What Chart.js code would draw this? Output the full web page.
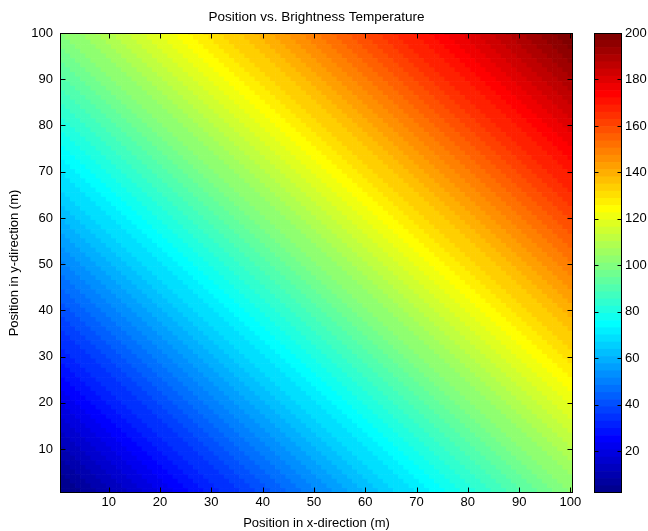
<!DOCTYPE html>
<html>
<head>
<meta charset="utf-8">
<script src="https://cdn.jsdelivr.net/npm/chart.js@4.4.1/dist/chart.umd.min.js"></script>
<style>
  html, body { margin: 0; padding: 0; background: #fff; }
  #wrap { position: relative; width: 648px; height: 531px; }
  canvas { position: absolute; top: 0; }
  #heat { left: 0; }
  #cbar { left: 560px; }
</style>
</head>
<body>
<div id="wrap">
  <canvas id="heat" width="648" height="531"></canvas>
  <canvas id="cbar" width="88" height="531"></canvas>
</div>
<script>
// grid positions (m)
const xPositions = [
  1, 2, 3, 4, 5, 6, 7, 8, 9, 10, 11, 12, 13, 14, 15, 16, 17, 18, 19, 20,
  21, 22, 23, 24, 25, 26, 27, 28, 29, 30, 31, 32, 33, 34, 35, 36, 37, 38, 39, 40,
  41, 42, 43, 44, 45, 46, 47, 48, 49, 50, 51, 52, 53, 54, 55, 56, 57, 58, 59, 60,
  61, 62, 63, 64, 65, 66, 67, 68, 69, 70, 71, 72, 73, 74, 75, 76, 77, 78, 79, 80,
  81, 82, 83, 84, 85, 86, 87, 88, 89, 90, 91, 92, 93, 94, 95, 96, 97, 98, 99, 100
];
const yPositions = [
  1, 2, 3, 4, 5, 6, 7, 8, 9, 10, 11, 12, 13, 14, 15, 16, 17, 18, 19, 20,
  21, 22, 23, 24, 25, 26, 27, 28, 29, 30, 31, 32, 33, 34, 35, 36, 37, 38, 39, 40,
  41, 42, 43, 44, 45, 46, 47, 48, 49, 50, 51, 52, 53, 54, 55, 56, 57, 58, 59, 60,
  61, 62, 63, 64, 65, 66, 67, 68, 69, 70, 71, 72, 73, 74, 75, 76, 77, 78, 79, 80,
  81, 82, 83, 84, 85, 86, 87, 88, 89, 90, 91, 92, 93, 94, 95, 96, 97, 98, 99, 100
];
// brightness temperature along each diagonal (cells with same x+y share a value),
// from the bottom-left corner cell to the top-right corner cell
const diagTemps = [
  2, 3, 4, 5, 6, 7, 8, 9, 10, 11, 12, 13, 14, 15, 16, 17, 18, 19, 20, 21,
  22, 23, 24, 25, 26, 27, 28, 29, 30, 31, 32, 33, 34, 35, 36, 37, 38, 39, 40, 41,
  42, 43, 44, 45, 46, 47, 48, 49, 50, 51, 52, 53, 54, 55, 56, 57, 58, 59, 60, 61,
  62, 63, 64, 65, 66, 67, 68, 69, 70, 71, 72, 73, 74, 75, 76, 77, 78, 79, 80, 81,
  82, 83, 84, 85, 86, 87, 88, 89, 90, 91, 92, 93, 94, 95, 96, 97, 98, 99, 100, 101,
  102, 103, 104, 105, 106, 107, 108, 109, 110, 111, 112, 113, 114, 115, 116, 117, 118, 119, 120, 121,
  122, 123, 124, 125, 126, 127, 128, 129, 130, 131, 132, 133, 134, 135, 136, 137, 138, 139, 140, 141,
  142, 143, 144, 145, 146, 147, 148, 149, 150, 151, 152, 153, 154, 155, 156, 157, 158, 159, 160, 161,
  162, 163, 164, 165, 166, 167, 168, 169, 170, 171, 172, 173, 174, 175, 176, 177, 178, 179, 180, 181,
  182, 183, 184, 185, 186, 187, 188, 189, 190, 191, 192, 193, 194, 195, 196, 197, 198, 199, 200
];
const xTicks = [10, 20, 30, 40, 50, 60, 70, 80, 90, 100];
const yTicks = [10, 20, 30, 40, 50, 60, 70, 80, 90, 100];
const colorTicks = [20, 40, 60, 80, 100, 120, 140, 160, 180, 200];
const colorLimits = [2, 200];

const FONT = 'Liberation Sans, Arial, sans-serif';
const N_COLORS = 64;

// matlab style jet(m)
function jetMap(m) {
  const n = Math.ceil(m / 4);
  const u = [];
  for (let i = 1; i <= n; i++) u.push(i / n);
  for (let i = 1; i < n; i++) u.push(1);
  for (let i = n; i >= 1; i--) u.push(i / n);
  const shift = Math.ceil(n / 2) - (m % 4 === 1 ? 1 : 0);
  const cm = Array.from({ length: m }, () => [0, 0, 0]);
  u.forEach((v, k) => {
    const g = shift + k + 1, r = g + n, b = g - n;
    if (r >= 1 && r <= m) cm[r - 1][0] = v;
    if (g >= 1 && g <= m) cm[g - 1][1] = v;
    if (b >= 1 && b <= m) cm[b - 1][2] = v;
  });
  return cm.map(c => `rgb(${c.map(v => Math.round(v * 255)).join(',')})`);
}
const jet = jetMap(N_COLORS);

function colorFor(t) {
  const [lo, hi] = colorLimits;
  let i = Math.floor((t - lo) / (hi - lo) * N_COLORS);
  return jet[Math.max(0, Math.min(N_COLORS - 1, i))];
}

// black box + inward ticks, matlab look
function framePlugin(tickLen, showX) {
  return {
    id: 'frame',
    afterDatasetsDraw(chart) {
      const { ctx, chartArea: a, scales } = chart;
      const L = Math.round(a.left) + 0.5, R = Math.round(a.right) - 0.5;
      const T = Math.round(a.top) + 0.5, B = Math.round(a.bottom) - 0.5;
      ctx.save();
      ctx.strokeStyle = '#000';
      ctx.lineWidth = 1;
      ctx.beginPath();
      if (showX) {
        const sx = scales.x;
        sx.ticks.forEach((t, i) => {
          const px = Math.round(sx.getPixelForTick(i)) + 0.5;
          ctx.moveTo(px, B); ctx.lineTo(px, B - tickLen);
          ctx.moveTo(px, T); ctx.lineTo(px, T + tickLen);
        });
      }
      const sy = scales.y;
      sy.ticks.forEach((t, i) => {
        const py = Math.round(sy.getPixelForTick(i)) + 0.5;
        ctx.moveTo(L, py); ctx.lineTo(L + tickLen, py);
        ctx.moveTo(R, py); ctx.lineTo(R - tickLen, py);
      });
      ctx.stroke();
      ctx.strokeRect(L, T, R - L, B - T);
      ctx.restore();
    }
  };
}

// ---- heat map: one floating-bar row per y position ----
const heatSets = yPositions.map((y, j) => ({
  data: xPositions.map(() => [y - 0.5, y + 0.5]),
  backgroundColor: xPositions.map((x, i) => colorFor(diagTemps[i + j])),
  borderWidth: 0,
  grouped: false,
  barPercentage: 1,
  categoryPercentage: 1
}));

new Chart(document.getElementById('heat'), {
  type: 'bar',
  data: { labels: xPositions, datasets: heatSets },
  options: {
    responsive: false,
    animation: false,
    devicePixelRatio: 1,
    layout: { padding: { left: 0, right: 75, top: 0, bottom: 0 } },
    plugins: {
      legend: { display: false },
      tooltip: { enabled: false },
      title: {
        display: true,
        fullSize: false,
        text: 'Position vs. Brightness Temperature',
        color: '#000',
        font: { family: FONT, size: 13.5, weight: 'normal' },
        padding: { top: 9, bottom: 7.8 }
      }
    },
    scales: {
      x: {
        type: 'category',
        grid: { display: false, drawTicks: false },
        border: { display: false },
        afterBuildTicks: s => { s.ticks = xTicks.map(v => ({ value: xPositions.indexOf(v) })); },
        afterFit: s => { s.height = 38; },
        ticks: { autoSkip: false, maxRotation: 0, padding: 2, color: '#000', font: { family: FONT, size: 13 } },
        title: {
          display: true, text: 'Position in x-direction (m)', color: '#000',
          font: { family: FONT, size: 13 }, padding: { top: 0, bottom: 0 }
        }
      },
      y: {
        type: 'linear',
        min: 0.5,
        max: 100,
        grid: { display: false, drawTicks: false },
        border: { display: false },
        afterBuildTicks: s => { s.ticks = yTicks.map(v => ({ value: v })); },
        afterFit: s => { s.width = 60; },
        ticks: { padding: 7, color: '#000', font: { family: FONT, size: 13 } },
        title: {
          display: true, text: 'Position in y-direction (m)', color: '#000',
          font: { family: FONT, size: 13 }, padding: { top: 7, bottom: 0 }
        }
      }
    }
  },
  plugins: [framePlugin(5, true)]
});

// ---- colour bar ----
const [cLo, cHi] = colorLimits;
const barSets = jet.map((c, k) => ({
  data: [[cLo + k * (cHi - cLo) / N_COLORS, cLo + (k + 1) * (cHi - cLo) / N_COLORS]],
  backgroundColor: c,
  borderWidth: 0,
  grouped: false,
  barPercentage: 1,
  categoryPercentage: 1
}));

new Chart(document.getElementById('cbar'), {
  type: 'bar',
  data: { labels: ['T'], datasets: barSets },
  options: {
    responsive: false,
    animation: false,
    devicePixelRatio: 1,
    layout: { padding: { left: 34, right: 0, top: 33, bottom: 38 } },
    plugins: { legend: { display: false }, tooltip: { enabled: false } },
    scales: {
      x: { display: false },
      y: {
        type: 'linear',
        position: 'right',
        min: cLo,
        max: cHi,
        grid: { display: false, drawTicks: false },
        border: { display: false },
        afterBuildTicks: s => { s.ticks = colorTicks.map(v => ({ value: v })); },
        afterFit: s => { s.width = 26; },
        ticks: { padding: 3, color: '#000', font: { family: FONT, size: 13 } }
      }
    }
  },
  plugins: [framePlugin(4, false)]
});
</script>
</body>
</html>
